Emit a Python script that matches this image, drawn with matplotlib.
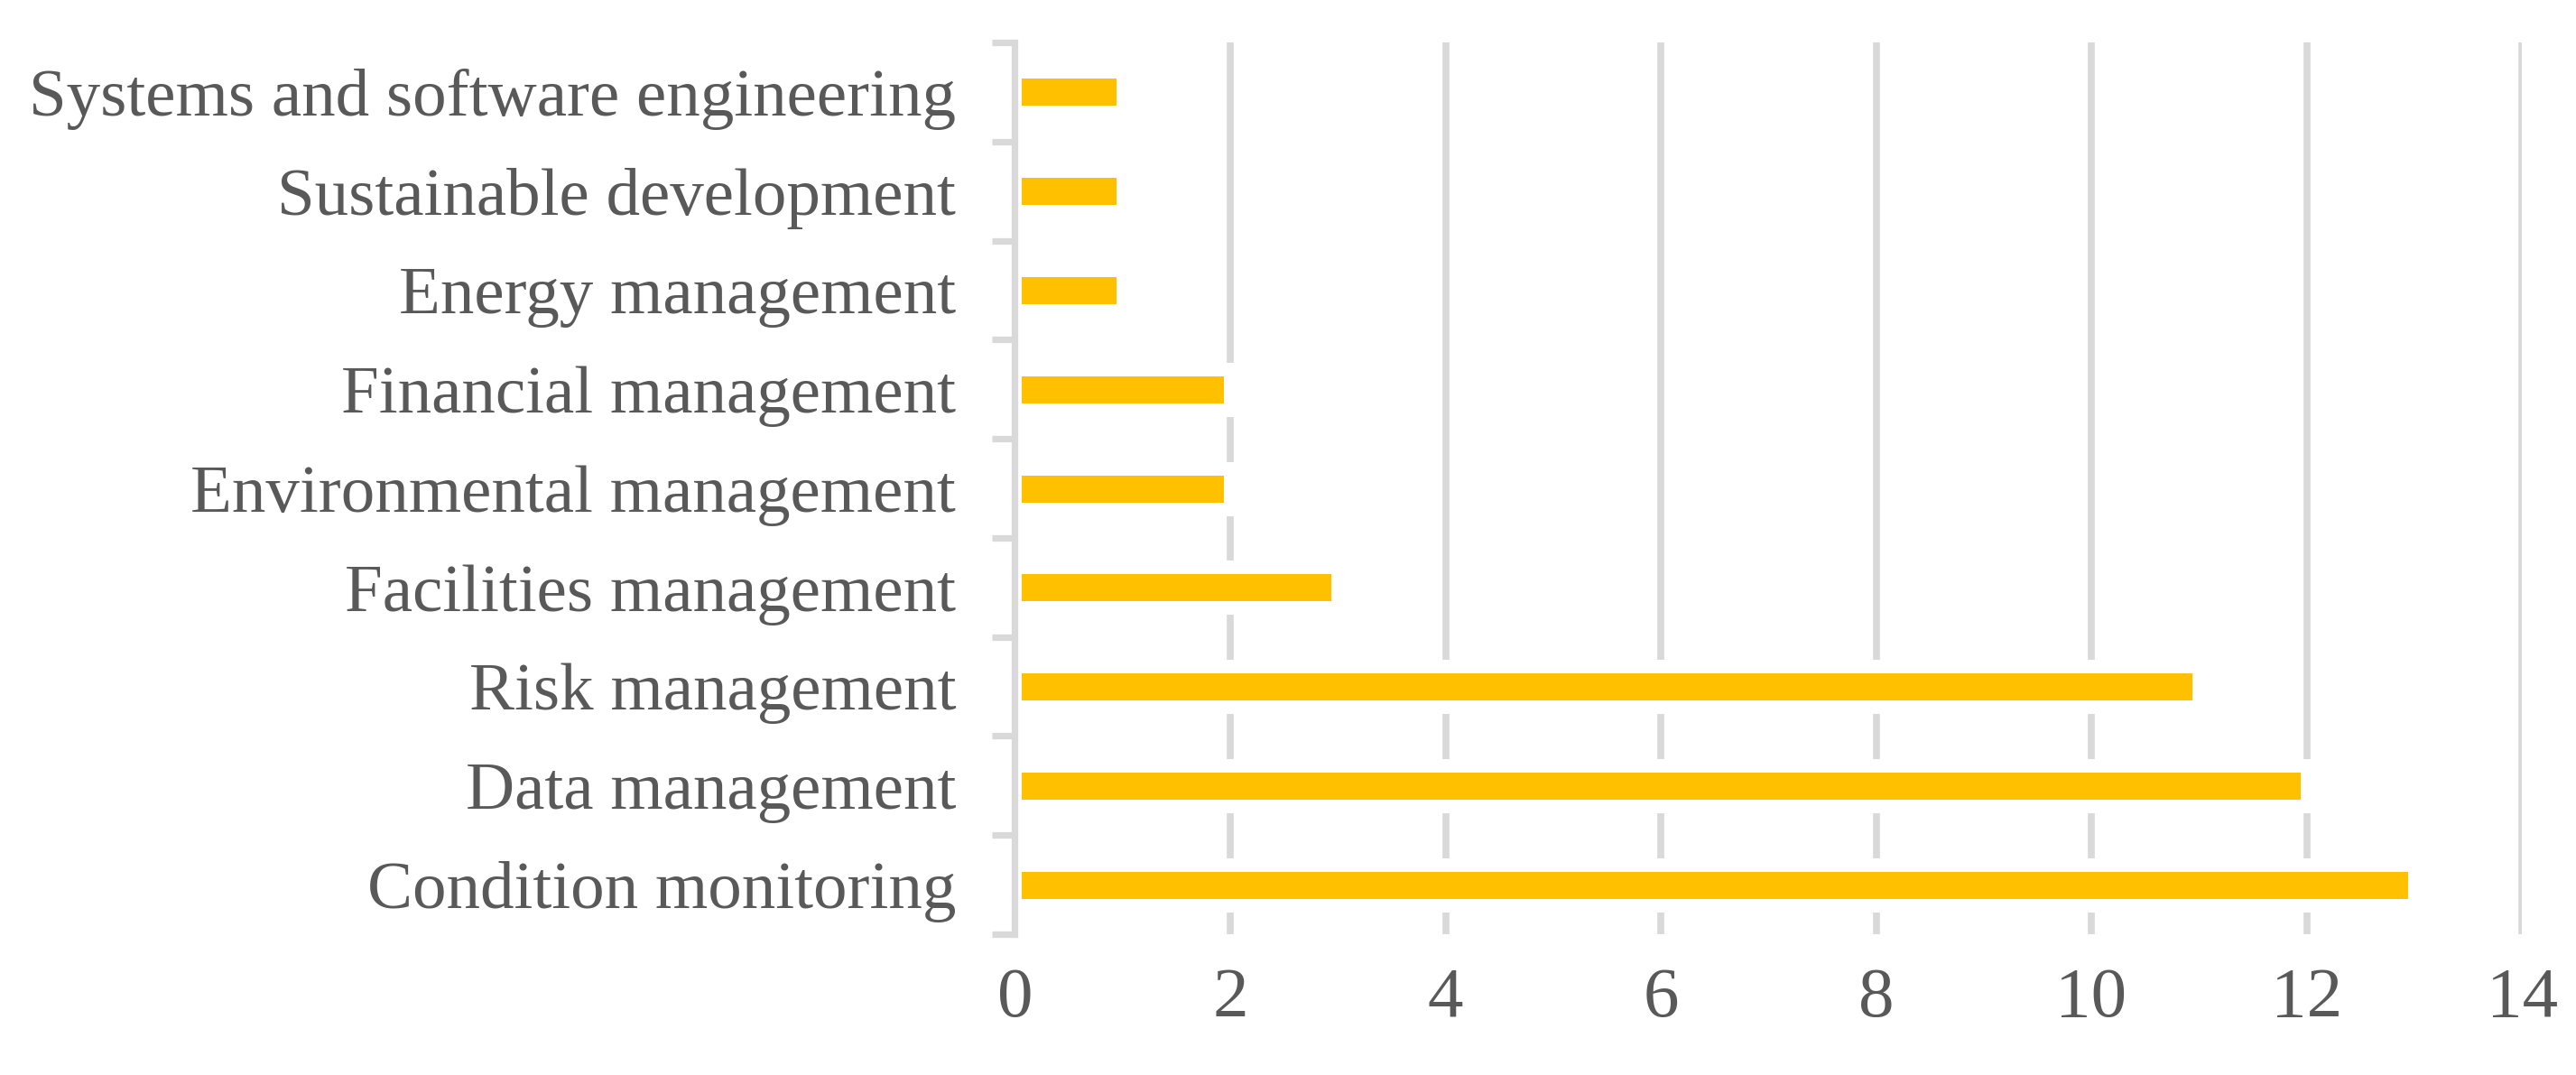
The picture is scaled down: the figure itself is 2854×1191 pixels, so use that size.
import matplotlib.pyplot as plt
from matplotlib.ticker import FixedLocator

# Data (bottom to top as drawn)
categories = ['Condition monitoring', 'Data management', 'Risk management',
              'Facilities management', 'Environmental management',
              'Financial management', 'Energy management',
              'Sustainable development', 'Systems and software engineering']
counts = [13, 12, 11, 3, 2, 2, 1, 1, 1]
x_ticks = [0, 2, 4, 6, 8, 10, 12, 14]

plt.rcParams['font.family'] = ['Liberation Serif', 'DejaVu Serif']

grey = '#D9D9D9'
text_col = '#595959'

fig = plt.figure(figsize=(28.54, 11.91), dpi=100)
ax = fig.add_axes([0.394, 0.131, 0.585, 0.8295])

ypos = list(range(len(categories)))
ax.barh(ypos, counts, height=0.41, color='#FFC000', edgecolor='white',
        linewidth=10.8, zorder=2)

ax.set_xlim(0, 14)
ax.set_ylim(-0.5, len(categories) - 0.5)
ax.set_xticks(x_ticks)
ax.set_yticks(ypos)
ax.set_yticklabels(categories)
ax.yaxis.set_minor_locator(FixedLocator([i - 0.5 for i in range(len(categories) + 1)]))

ax.grid(axis='x', color=grey, linewidth=5.5, zorder=0)
ax.set_axisbelow(True)

for s in ['top', 'right', 'bottom']:
    ax.spines[s].set_visible(False)
ax.spines['left'].set_color(grey)
ax.spines['left'].set_linewidth(5.2)
ax.spines['left'].set_zorder(3)

ax.tick_params(axis='y', which='major', length=0, pad=47, labelsize=54,
               labelcolor=text_col)
ax.tick_params(axis='y', which='minor', length=18, width=5.2, color=grey)
ax.tick_params(axis='x', length=0, pad=26, labelsize=57, labelcolor=text_col)

plt.savefig('out.png', dpi=100)
